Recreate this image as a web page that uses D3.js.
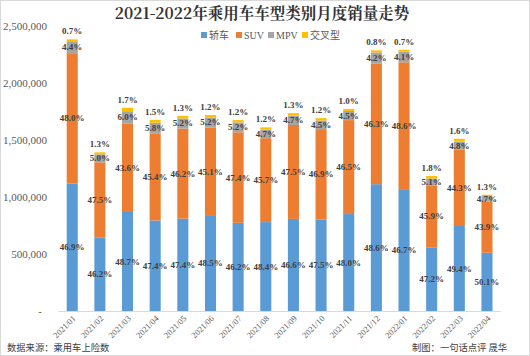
<!DOCTYPE html>
<html><head><meta charset="utf-8">
<script src="https://cdn.jsdelivr.net/npm/d3@7"></script>
<style>html,body{margin:0;padding:0;background:#fff;}svg{display:block;}</style>
</head><body>
<svg id="c" width="530" height="356"></svg>
<script>
const months = ["2021/01","2021/02","2021/03","2021/04","2021/05","2021/06","2021/07","2021/08","2021/09","2021/10","2021/11","2021/12","2022/01","2022/02","2022/03","2022/04"];
const totals = [2383000,1392000,1783000,1675000,1710000,1719000,1675000,1611000,1734000,1690000,1772000,2289000,2289000,1184000,1509000,1020000];
const sedanPct = [46.9,46.2,48.7,47.4,47.4,48.5,46.2,48.4,46.6,47.5,48.0,48.6,46.7,47.2,49.4,50.1];
const suvPct   = [48.0,47.5,43.6,45.4,46.2,45.1,47.4,45.7,47.5,46.9,46.5,46.3,48.6,45.9,44.3,43.9];
const mpvPct   = [4.4,5.0,6.0,5.8,5.2,5.2,5.2,4.7,4.7,4.5,4.5,4.2,4.1,5.1,4.8,4.7];
const crossPct = [0.7,1.3,1.7,1.5,1.3,1.2,1.2,1.2,1.3,1.2,1.0,0.8,0.7,1.8,1.6,1.3];
const seriesNames = ["轿车","SUV","MPV","交叉型"];
const colors = ["#5B9BD5","#ED7D31","#A5A5A5","#FFC000"];
const yTicks = [0,500000,1000000,1500000,2000000,2500000];

const pcts = [sedanPct, suvPct, mpvPct, crossPct];
const rows = months.map((m,i)=>{
  const r = {month:m};
  seriesNames.forEach((s,k)=>{ r[s] = totals[i]*pcts[k][i]/100; r[s+"_p"] = pcts[k][i]; });
  return r;
});

const svg = d3.select("#c");
svg.append("rect").attr("x",0.5).attr("y",0.5).attr("width",529).attr("height",355)
  .attr("fill","#fff").attr("stroke","#d9d9d9");

const x = d3.scaleBand().domain(months).range([58.4,500.8]).paddingInner(0.6).paddingOuter(0.3);
const y = d3.scaleLinear().domain([0,2500000]).range([311,26]);

const serif = "'Liberation Serif','Times New Roman',serif";
const cjk = "'Noto Sans CJK SC','Noto Sans',sans-serif";

// title
svg.append("text").attr("x",262).attr("y",19).attr("text-anchor","middle")
  .attr("font-family","'Noto Serif CJK SC','Noto Sans CJK SC',serif").attr("font-weight","bold")
  .attr("font-size",15.5).attr("fill","#333").text("2021-2022年乘用车车型类别月度销量走势");

// legend
const legX = [201,236,268,302];
seriesNames.forEach((s,k)=>{
  const g = svg.append("g").attr("transform",`translate(${legX[k]},35)`);
  g.append("rect").attr("x",0).attr("y",-3).attr("width",6).attr("height",6).attr("fill",colors[k]);
  g.append("text").attr("x",8).attr("y",3.5).attr("font-size",10)
    .attr("font-family", k===1||k===2 ? serif : cjk).attr("fill","#595959").text(s);
});

// y axis labels
const yAxis = d3.axisLeft(y).tickValues(yTicks).tickSize(0).tickPadding(0)
  .tickFormat(d=> d===0 ? "-" : d3.format(",")(d));
const ya = svg.append("g").attr("transform","translate(47,0)").call(yAxis);
ya.select(".domain").remove();
ya.selectAll("text").attr("font-family",serif).attr("font-size",11).attr("fill","#595959")
  .attr("dx", d=> d===0 ? -5 : 0);

// stacked bars
const stack = d3.stack().keys(seriesNames)(rows);
const layers = svg.append("g").selectAll("g").data(stack).join("g").attr("fill",(d,i)=>colors[i]);
layers.selectAll("rect").data(d=>d).join("rect")
  .attr("x",d=>x(d.data.month)).attr("width",x.bandwidth())
  .attr("y",d=>y(d[1])).attr("height",d=>y(d[0])-y(d[1]));

// x axis
const xa = svg.append("g").attr("transform","translate(0,311)")
  .call(d3.axisBottom(x).tickSize(0).tickPadding(0));
xa.select(".domain").attr("stroke","#d9d9d9").attr("d","M58.4,0.5H500.8");
xa.selectAll("text").attr("font-family",serif).attr("font-size",8.5).attr("fill","#595959")
  .attr("text-anchor","end").attr("transform","translate(2,6) rotate(-45)").attr("dy","0.35em");

// labels
const lab = svg.append("g").attr("font-family",serif).attr("font-weight","bold")
  .attr("font-size",9).attr("fill","#404040").attr("text-anchor","middle");
stack.forEach((layer,k)=>{
  layer.forEach(d=>{
    const cx = x(d.data.month)+x.bandwidth()/2;
    let cy;
    if(k===3) cy = y(d[1]) - 5;
    else cy = (y(d[0])+y(d[1]))/2 + 3;
    lab.append("text").attr("x",cx).attr("y",cy)
      .text(d.data[seriesNames[k]+"_p"].toFixed(1)+"%");
  });
});

// footer
svg.append("text").attr("x",7).attr("y",351).attr("font-family",cjk).attr("font-size",9.3)
  .attr("fill","#404040").text("数据来源：乘用车上险数");
svg.append("text").attr("x",412).attr("y",351).attr("font-family",cjk).attr("font-size",9.3)
  .attr("fill","#404040").text("制图：一句话点评 晟华");
</script>
</body></html>
